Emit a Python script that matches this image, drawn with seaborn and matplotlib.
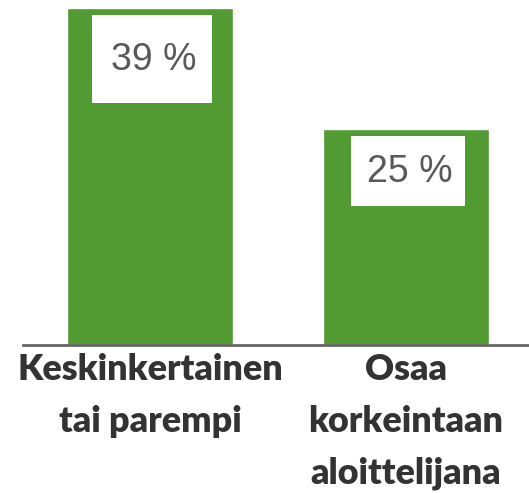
import matplotlib
matplotlib.use("Agg")
import matplotlib.pyplot as plt
from matplotlib.patches import Rectangle
from matplotlib.transforms import ScaledTranslation
import seaborn as sns
import pandas as pd

# data
categories = ["Keskinkertainen\ntai parempi", "Osaa\nkorkeintaan\naloittelijana"]
values = [39, 25]
value_labels = ["39 %", "25 %"]

df = pd.DataFrame({"kategoria": categories, "osuus": values})

sns.set_style("white")
plt.rcParams["font.family"] = ["Lato", "DejaVu Sans"]

fig = plt.figure(figsize=(5.29, 4.93), dpi=100)
ax = fig.add_axes([23 / 529, 148 / 493, 506 / 529, 345 / 493])

sns.barplot(data=df, x="kategoria", y="osuus", color="#529a32", saturation=1,
            width=0.65, ax=ax)

ax.set_xlim(-0.496, 1.48)
ax.set_ylim(0, 39.93)

# white label boxes (size in px, relative to top centre of each bar)
box_sizes = [(120, 88), (114, 70)]
px = 1 / fig.dpi
for i, (v, lab) in enumerate(zip(values, value_labels)):
    w, h = box_sizes[i]
    trans = fig.dpi_scale_trans + ScaledTranslation(i, v, ax.transData)
    ax.add_patch(Rectangle(((-w / 2 + 2) * px, (-7 - h) * px), w * px, h * px,
                           transform=trans, fc="white", ec="none", zorder=3))
    ax.text(4 * px, (-7 - h / 2 - 1) * px, lab, transform=trans,
            ha="center", va="center", fontsize=27, color="#595959",
            family=["Liberation Sans", "DejaVu Sans"], zorder=4)

ax.set_xlabel("")
ax.set_ylabel("")
ax.set_yticks([])
ax.set_xticks(range(len(categories)))
ax.set_xticklabels(categories, fontsize=25.8, fontweight="heavy", color="#333333",
                   linespacing=1.68)
ax.tick_params(axis="x", length=0, pad=6)

for s in ["top", "right", "left"]:
    ax.spines[s].set_visible(False)
ax.spines["bottom"].set_color("#666666")
ax.spines["bottom"].set_linewidth(2)

fig.savefig("out.png", dpi=100)
plt.close(fig)
